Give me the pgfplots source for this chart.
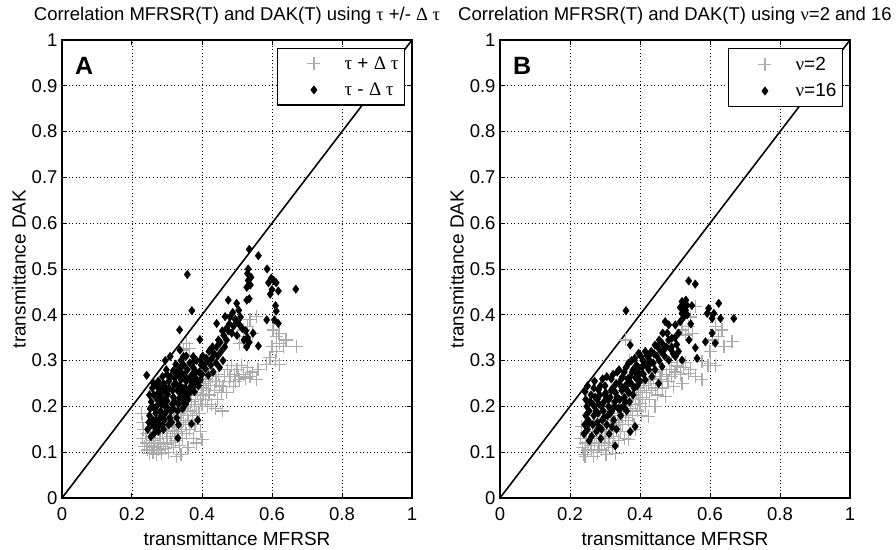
\documentclass[border=0pt]{standalone}
\usepackage{fontspec}
\setmainfont{Liberation Sans}
\newfontfamily\grk{Liberation Serif}
\usepackage{pgfplots}
\usepackage{pgfplotstable}
\pgfplotsset{compat=1.18}
\definecolor{lgrey}{RGB}{172,172,172}

\pgfplotstableread{
x y
0.228 0.185
0.230 0.165
0.232 0.150
0.230 0.130
0.235 0.112
0.240 0.140
0.242 0.120
0.245 0.105
0.250 0.098
0.250 0.130
0.255 0.115
0.258 0.145
0.260 0.100
0.262 0.125
0.265 0.110
0.265 0.160
0.268 0.140
0.270 0.095
0.272 0.120
0.275 0.105
0.278 0.150
0.280 0.130
0.280 0.165
0.282 0.112
0.285 0.098
0.288 0.140
0.290 0.120
0.290 0.175
0.292 0.155
0.295 0.108
0.298 0.130
0.300 0.145
0.300 0.170
0.302 0.118
0.305 0.100
0.308 0.160
0.310 0.135
0.310 0.180
0.312 0.122
0.315 0.148
0.318 0.110
0.320 0.165
0.320 0.190
0.322 0.140
0.325 0.125
0.326 0.090
0.328 0.155
0.330 0.175
0.330 0.200
0.332 0.145
0.335 0.115
0.338 0.165
0.340 0.185
0.340 0.095
0.340 0.210
0.342 0.150
0.345 0.130
0.348 0.170
0.350 0.195
0.350 0.220
0.352 0.160
0.355 0.140
0.358 0.180
0.360 0.205
0.360 0.110
0.360 0.230
0.362 0.170
0.365 0.150
0.368 0.190
0.370 0.210
0.370 0.225
0.372 0.180
0.375 0.130
0.378 0.200
0.380 0.160
0.380 0.240
0.382 0.215
0.385 0.185
0.385 0.120
0.388 0.230
0.390 0.200
0.390 0.250
0.393 0.185
0.395 0.215
0.395 0.145
0.398 0.240
0.400 0.205
0.400 0.127
0.403 0.225
0.405 0.250
0.410 0.215
0.410 0.260
0.412 0.235
0.415 0.200
0.418 0.255
0.420 0.225
0.420 0.270
0.425 0.245
0.428 0.205
0.430 0.265
0.435 0.235
0.438 0.195
0.440 0.255
0.445 0.215
0.448 0.270
0.450 0.245
0.455 0.230
0.458 0.190
0.460 0.243
0.465 0.265
0.470 0.230
0.472 0.280
0.478 0.255
0.480 0.265
0.485 0.290
0.489 0.243
0.492 0.270
0.495 0.255
0.500 0.280
0.505 0.265
0.508 0.258
0.512 0.290
0.518 0.270
0.525 0.262
0.530 0.285
0.537 0.265
0.545 0.275
0.556 0.258
0.560 0.280
0.508 0.338
0.518 0.367
0.527 0.352
0.537 0.389
0.556 0.396
0.545 0.360
0.530 0.375
0.520 0.340
0.355 0.338
0.365 0.327
0.347 0.323
0.585 0.291
0.594 0.306
0.603 0.367
0.613 0.352
0.613 0.320
0.622 0.338
0.622 0.291
0.632 0.330
0.640 0.345
0.670 0.331
0.600 0.330
0.610 0.300
0.620 0.360
}\leftgrey

\pgfplotstableread{
x y
0.245 0.150
0.248 0.165
0.250 0.180
0.252 0.195
0.255 0.210
0.250 0.225
0.258 0.240
0.262 0.250
0.242 0.268
0.260 0.170
0.265 0.155
0.268 0.185
0.270 0.200
0.272 0.215
0.275 0.230
0.270 0.245
0.278 0.160
0.280 0.175
0.282 0.190
0.285 0.205
0.283 0.220
0.288 0.235
0.290 0.250
0.287 0.265
0.292 0.170
0.295 0.185
0.297 0.198
0.300 0.212
0.302 0.226
0.298 0.240
0.305 0.255
0.300 0.270
0.254 0.134
0.262 0.140
0.275 0.145
0.290 0.150
0.305 0.160
0.308 0.175
0.312 0.190
0.315 0.205
0.318 0.220
0.316 0.235
0.320 0.248
0.322 0.262
0.318 0.278
0.325 0.292
0.328 0.175
0.330 0.190
0.333 0.205
0.335 0.218
0.338 0.232
0.336 0.245
0.340 0.258
0.343 0.272
0.340 0.300
0.331 0.131
0.345 0.195
0.348 0.210
0.350 0.225
0.352 0.240
0.355 0.255
0.350 0.268
0.358 0.280
0.355 0.310
0.360 0.215
0.363 0.228
0.366 0.242
0.368 0.256
0.370 0.162
0.372 0.270
0.375 0.285
0.378 0.232
0.380 0.248
0.382 0.262
0.385 0.300
0.388 0.170
0.390 0.245
0.392 0.275
0.395 0.258
0.398 0.290
0.400 0.270
0.402 0.310
0.410 0.282
0.415 0.300
0.418 0.268
0.420 0.320
0.425 0.290
0.428 0.305
0.432 0.275
0.435 0.315
0.440 0.295
0.442 0.330
0.445 0.310
0.450 0.285
0.452 0.340
0.455 0.320
0.460 0.300
0.465 0.330
0.462 0.355
0.470 0.345
0.475 0.365
0.478 0.380
0.480 0.395
0.485 0.360
0.490 0.375
0.495 0.390
0.500 0.355
0.475 0.432
0.499 0.425
0.528 0.432
0.466 0.396
0.442 0.381
0.394 0.346
0.423 0.323
0.337 0.323
0.347 0.309
0.375 0.309
0.309 0.309
0.505 0.380
0.510 0.395
0.515 0.370
0.520 0.345
0.525 0.365
0.530 0.350
0.535 0.340
0.528 0.330
0.546 0.360
0.561 0.332
0.535 0.435
0.528 0.460
0.532 0.475
0.530 0.490
0.532 0.500
0.540 0.482
0.538 0.465
0.535 0.543
0.561 0.529
0.586 0.500
0.590 0.470
0.598 0.480
0.605 0.475
0.612 0.470
0.600 0.455
0.618 0.452
0.595 0.445
0.610 0.420
0.612 0.408
0.607 0.389
0.618 0.381
0.585 0.389
0.668 0.456
0.358 0.488
0.371 0.409
0.336 0.367
0.295 0.300
0.255 0.160
0.258 0.200
0.262 0.225
0.265 0.195
0.268 0.170
0.275 0.255
0.278 0.210
0.280 0.240
0.285 0.180
0.288 0.160
0.292 0.215
0.295 0.230
0.298 0.280
0.303 0.195
0.306 0.240
0.310 0.265
0.313 0.165
0.318 0.195
0.322 0.210
0.325 0.250
0.328 0.275
0.330 0.235
0.333 0.160
0.335 0.265
0.338 0.285
0.342 0.225
0.345 0.240
0.348 0.290
0.353 0.205
0.357 0.230
0.362 0.260
0.365 0.295
0.370 0.235
0.374 0.250
0.378 0.300
0.383 0.275
0.387 0.255
0.395 0.300
0.405 0.290
0.412 0.305
0.430 0.330
0.447 0.345
0.458 0.365
0.470 0.370
0.488 0.405
0.505 0.410
}\leftblack

\pgfplotstableread{
x y
0.230 0.130
0.233 0.156
0.235 0.110
0.240 0.095
0.243 0.090
0.245 0.120
0.248 0.140
0.250 0.105
0.255 0.130
0.258 0.115
0.262 0.105
0.265 0.145
0.268 0.090
0.270 0.120
0.270 0.160
0.275 0.135
0.278 0.100
0.280 0.155
0.283 0.115
0.285 0.130
0.285 0.170
0.290 0.105
0.292 0.145
0.295 0.160
0.298 0.120
0.300 0.135
0.300 0.180
0.303 0.095
0.305 0.150
0.308 0.170
0.310 0.115
0.310 0.190
0.312 0.130
0.315 0.160
0.318 0.145
0.320 0.180
0.320 0.200
0.322 0.110
0.325 0.135
0.329 0.098
0.330 0.165
0.333 0.150
0.335 0.185
0.338 0.125
0.340 0.170
0.340 0.205
0.343 0.195
0.345 0.145
0.348 0.180
0.350 0.160
0.350 0.215
0.353 0.200
0.355 0.130
0.358 0.175
0.358 0.345
0.360 0.190
0.363 0.210
0.365 0.200
0.367 0.127
0.368 0.170
0.370 0.300
0.372 0.195
0.375 0.215
0.378 0.180
0.380 0.225
0.383 0.160
0.386 0.149
0.388 0.205
0.390 0.230
0.393 0.190
0.395 0.215
0.395 0.240
0.400 0.207
0.402 0.235
0.405 0.180
0.408 0.220
0.410 0.255
0.412 0.245
0.415 0.200
0.418 0.230
0.424 0.178
0.425 0.250
0.428 0.215
0.430 0.260
0.432 0.235
0.438 0.260
0.443 0.200
0.445 0.240
0.445 0.275
0.450 0.225
0.455 0.265
0.460 0.258
0.465 0.240
0.465 0.280
0.472 0.221
0.475 0.270
0.480 0.255
0.485 0.280
0.490 0.265
0.490 0.295
0.496 0.243
0.500 0.275
0.505 0.290
0.508 0.287
0.515 0.270
0.520 0.250
0.525 0.285
0.530 0.295
0.539 0.272
0.545 0.280
0.558 0.265
0.577 0.258
0.577 0.298
0.594 0.290
0.601 0.294
0.615 0.290
0.520 0.367
0.530 0.356
0.539 0.374
0.545 0.395
0.558 0.418
0.550 0.360
0.606 0.345
0.615 0.374
0.625 0.352
0.634 0.367
0.663 0.341
0.640 0.330
0.600 0.320
}\rightgrey

\pgfplotstableread{
x y
0.240 0.140
0.242 0.160
0.245 0.180
0.248 0.200
0.243 0.232
0.250 0.150
0.252 0.170
0.255 0.190
0.258 0.210
0.255 0.125
0.262 0.135
0.265 0.160
0.268 0.180
0.270 0.200
0.272 0.220
0.268 0.240
0.275 0.145
0.278 0.165
0.280 0.185
0.281 0.236
0.283 0.205
0.285 0.225
0.288 0.130
0.290 0.150
0.292 0.170
0.295 0.190
0.297 0.210
0.300 0.245
0.302 0.230
0.305 0.160
0.308 0.180
0.310 0.200
0.312 0.140
0.315 0.220
0.318 0.260
0.320 0.190
0.322 0.240
0.325 0.170
0.328 0.210
0.329 0.114
0.330 0.230
0.333 0.150
0.335 0.275
0.338 0.195
0.340 0.250
0.342 0.215
0.345 0.180
0.348 0.235
0.350 0.265
0.352 0.200
0.355 0.220
0.358 0.245
0.360 0.285
0.362 0.190
0.365 0.260
0.367 0.294
0.368 0.230
0.370 0.210
0.372 0.145
0.372 0.334
0.375 0.250
0.378 0.275
0.380 0.225
0.383 0.240
0.386 0.156
0.388 0.262
0.390 0.290
0.392 0.245
0.396 0.316
0.398 0.270
0.400 0.255
0.405 0.285
0.408 0.300
0.410 0.270
0.415 0.258
0.418 0.290
0.420 0.310
0.425 0.280
0.428 0.300
0.432 0.320
0.434 0.265
0.438 0.295
0.443 0.280
0.443 0.334
0.448 0.310
0.453 0.250
0.455 0.300
0.460 0.320
0.463 0.287
0.463 0.338
0.470 0.310
0.472 0.385
0.475 0.330
0.482 0.301
0.482 0.345
0.482 0.378
0.488 0.325
0.491 0.349
0.495 0.315
0.501 0.309
0.501 0.378
0.505 0.335
0.510 0.320
0.515 0.416
0.520 0.301
0.520 0.403
0.520 0.429
0.525 0.418
0.530 0.410
0.531 0.432
0.534 0.421
0.539 0.474
0.558 0.467
0.558 0.328
0.563 0.305
0.587 0.341
0.592 0.403
0.596 0.414
0.606 0.392
0.606 0.360
0.611 0.403
0.615 0.338
0.625 0.425
0.630 0.392
0.668 0.392
0.360 0.409
0.245 0.215
0.250 0.245
0.255 0.165
0.260 0.225
0.265 0.205
0.270 0.255
0.275 0.190
0.278 0.215
0.283 0.155
0.287 0.245
0.290 0.200
0.293 0.260
0.297 0.175
0.300 0.225
0.305 0.265
0.310 0.215
0.315 0.185
0.318 0.235
0.320 0.155
0.323 0.270
0.327 0.200
0.332 0.250
0.335 0.220
0.340 0.280
0.343 0.195
0.347 0.260
0.350 0.240
0.355 0.275
0.358 0.210
0.363 0.235
0.367 0.250
0.372 0.265
0.376 0.300
0.380 0.280
0.385 0.305
0.390 0.270
0.395 0.285
0.402 0.310
0.410 0.290
0.415 0.320
0.425 0.310
0.430 0.295
0.440 0.315
0.450 0.330
0.455 0.345
0.465 0.360
0.470 0.325
0.478 0.360
0.490 0.330
0.500 0.350
0.510 0.360
0.515 0.385
0.525 0.395
0.535 0.400
0.540 0.345
0.545 0.380
0.548 0.420
}\rightblack

\pgfplotsset{
  myax/.style={
    scale only axis, width=350pt, height=458pt,
    xmin=0, xmax=1, ymin=0, ymax=1,
    xtick={0,0.2,0.4,0.6,0.8,1},
    xticklabels={0,0.2,0.4,0.6,0.8,1},
    ytick={0,0.1,0.2,0.3,0.4,0.5,0.6,0.7,0.8,0.9,1},
    yticklabels={0,0.1,0.2,0.3,0.4,0.5,0.6,0.7,0.8,0.9,1},
    tick align=inside, tick pos=both,
    major tick length=5pt,
    axis line style={line width=1.4pt},
    every tick/.style={black, line width=1pt},
    grid=major,
    major grid style={black, line width=0.9pt, dash pattern=on 0.9pt off 2.6pt},
    tick label style={font=\fontsize{18.5}{20}\selectfont},
    xticklabel style={yshift=-6pt},
    yticklabel style={xshift=-1pt},
    /pgf/number format/assume math mode=true,
    label style={font=\fontsize{19}{21}\selectfont},
    title style={font=\fontsize{18.5}{21}\selectfont, yshift=6pt},
    xlabel={transmittance MFRSR},
    ylabel={transmittance DAK},
    xlabel style={yshift=-4pt},
    ylabel style={yshift=-1pt},
    legend style={at={(0.98,0.982)}, anchor=north east, draw=black, line width=1.2pt,
      font=\fontsize{19}{21}\selectfont, row sep=8pt, inner ysep=6pt, inner xsep=4pt,
      cells={anchor=west}},
  },
  greyser/.style={only marks, mark=+, mark size=6.5pt, color=lgrey, line width=1.2pt,
    legend image code/.code={\path (0pt,0pt) (60pt,0pt);\draw[mark repeat=2,mark phase=2,##1] plot coordinates {(0pt,0pt)(32pt,0pt)(64pt,0pt)};}},
  blackser/.style={only marks, mark=diamond*, mark size=4.3pt, color=black, line width=0.3pt,
    legend image code/.code={\path (0pt,0pt) (60pt,0pt);\draw[mark repeat=2,mark phase=2,##1] plot coordinates {(0pt,0pt)(32pt,0pt)(64pt,0pt)};}},
}

\begin{document}
\begin{tikzpicture}
\path[use as bounding box] (-62pt,-51pt) rectangle (834pt,498pt);
\begin{axis}[myax, at={(0pt,0pt)},
  title={Correlation MFRSR(T) and DAK(T) using {\grk τ} +/- {\grk Δ τ}}]
\addplot[greyser] table[x=x,y=y] {\leftgrey};
\addlegendentry{{\grk τ} + {\grk Δ τ}}
\addplot[blackser] table[x=x,y=y] {\leftblack};
\addlegendentry{{\grk τ} - {\grk Δ τ}}
\addplot[black, line width=1.6pt, forget plot] coordinates {(0,0) (1,1)};
\node[font=\bfseries\fontsize{25}{27}\selectfont] at (axis cs:0.063,0.943) {A};
\end{axis}
\begin{axis}[myax, at={(438pt,0pt)},
  title={Correlation MFRSR(T) and DAK(T) using {\grk ν}=2 and 16}]
\addplot[greyser] table[x=x,y=y] {\rightgrey};
\addlegendentry{{\grk ν}=2}
\addplot[blackser] table[x=x,y=y] {\rightblack};
\addlegendentry{{\grk ν}=16}
\addplot[black, line width=1.6pt, forget plot] coordinates {(0,0) (1,1)};
\node[font=\bfseries\fontsize{25}{27}\selectfont] at (axis cs:0.063,0.943) {B};
\end{axis}
\end{tikzpicture}
\end{document}
